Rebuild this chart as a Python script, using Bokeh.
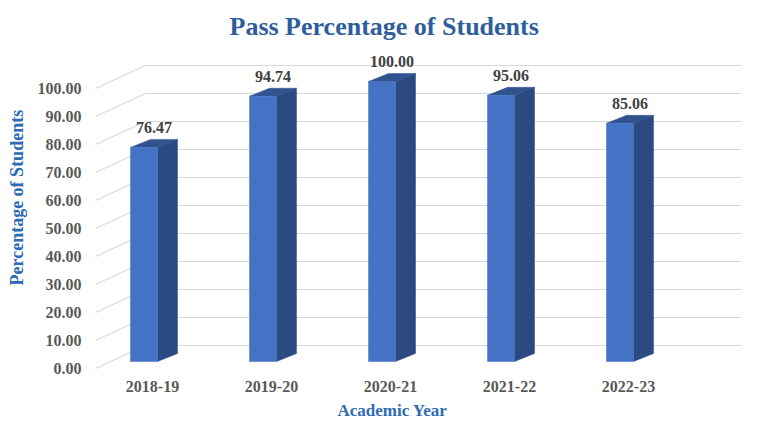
from bokeh.plotting import figure
from bokeh.models import (Range1d, LinearAxis, FixedTicker, NumeralTickFormatter,
                          ColumnDataSource, Title)
from bokeh.core.properties import value
from bokeh.embed import file_html
from bokeh.resources import INLINE

# ---- data ----
years = ["2018-19", "2019-20", "2020-21", "2021-22", "2022-23"]
pass_pct = [76.47, 94.74, 100.00, 95.06, 85.06]
y_ticks = [0, 10, 20, 30, 40, 50, 60, 70, 80, 90, 100]

# ---- style / geometry ----
W, H = 768, 433
FL, FR, FT, FB = 92, 748, 45, 372          # frame edges in px
PX_X = 119.0                                 # px per category
PX_Y = 2.8                                   # px per percent
X0_PX, Y0_PX = 143.5, 361.0                  # canvas px of (0, 0)
HALF = 13.5 / PX_X                           # half bar width
DX, DY = 20 / PX_X, 8 / PX_Y                 # bar depth
WALL_DX, WALL_DY = 1.5 / PX_X, 16 / PX_Y     # back wall offset
LBL_DY = 7 / PX_Y                            # label plane offset
SLANT_X0 = (95 - X0_PX) / PX_X
WALL_X1 = (741 - X0_PX) / PX_X
CAT_DX = 8.5 / PX_X

SERIF = "Liberation Serif"
FRONT, SIDE, TOP = "#4472C4", "#2B4A82", "#30528F"
GRID = "#D9D9D9"
AXIS_BLUE = "#2E6BB5"

x_start = (FL - X0_PX) / PX_X
x_end = (FR - X0_PX) / PX_X
y_end = (Y0_PX - FT) / PX_Y
y_start = (Y0_PX - FB) / PX_Y

p = figure(width=W, height=H, output_backend="svg", toolbar_location=None,
           x_range=Range1d(x_start, x_end), y_range=Range1d(y_start, y_end),
           x_axis_location=None, y_axis_location=None,
           min_border_left=FL, min_border_right=W - FR,
           min_border_top=FT, min_border_bottom=H - FB,
           outline_line_color=None, background_fill_color="white",
           border_fill_color="white")
p.grid.visible = False

p.extra_y_ranges = {"lbl": Range1d(y_start + LBL_DY, y_end + LBL_DY)}
p.extra_x_ranges = {"cat": Range1d(x_start - CAT_DX, x_end - CAT_DX)}

yax = LinearAxis(y_range_name="lbl", ticker=FixedTicker(ticks=y_ticks),
                 formatter=NumeralTickFormatter(format="0.00"))
yax.axis_line_color = None
yax.major_tick_line_color = None
yax.minor_tick_line_color = None
yax.major_label_standoff = 5
yax.major_label_text_font = SERIF
yax.major_label_text_font_style = "bold"
yax.major_label_text_font_size = "16px"
yax.major_label_text_color = "#595959"
p.add_layout(yax, "left")

yt = Title(text="Percentage of Students", align="left", offset=87,
           vertical_align="top", text_font=SERIF, text_font_style="bold",
           text_font_size="18px", text_color=AXIS_BLUE, standoff=11)
p.add_layout(yt, "left")

xax = LinearAxis(x_range_name="cat", ticker=FixedTicker(ticks=list(range(len(years)))),
                 major_label_overrides={i: y for i, y in enumerate(years)})
xax.axis_line_color = None
xax.major_tick_line_color = None
xax.minor_tick_line_color = None
xax.major_label_standoff = 2
xax.major_label_text_font = SERIF
xax.major_label_text_font_style = "bold"
xax.major_label_text_font_size = "16px"
xax.major_label_text_color = "#595959"
p.add_layout(xax, "below")

xt = Title(text="Academic Year", align="left", offset=245,
           text_font=SERIF, text_font_style="bold", text_font_size="17px",
           text_color=AXIS_BLUE, standoff=8)
p.add_layout(xt, "below")

p.title.text = "Pass Percentage of Students"
p.title.align = "left"
p.title.offset = 137
p.title.text_font = SERIF
p.title.text_font_style = "bold"
p.title.text_font_size = "26px"
p.title.text_color = "#2E5E9B"

# ---- 3D grid: back wall + slanted left lines ----
wall_y = [t + WALL_DY for t in y_ticks]
p.segment(x0=[WALL_DX] * len(y_ticks), y0=wall_y,
          x1=[WALL_X1] * len(y_ticks), y1=wall_y,
          line_color=GRID, line_width=1.2)
p.segment(x0=[SLANT_X0] * len(y_ticks), y0=[t - LBL_DY for t in y_ticks],
          x1=[WALL_DX] * len(y_ticks), y1=wall_y,
          line_color=GRID, line_width=1.2)

# ---- bars ----
xs_front, ys_front, xs_side, ys_side, xs_top, ys_top = [], [], [], [], [], []
for i, v in enumerate(pass_pct):
    l, r = i - HALF, i + HALF
    xs_front.append([l, r, r, l]); ys_front.append([0, 0, v, v])
    xs_side.append([r, r + DX, r + DX, r]); ys_side.append([0, DY, v + DY, v])
    xs_top.append([l, r, r + DX, l + DX]); ys_top.append([v, v, v + DY, v + DY])

p.patches(xs_side, ys_side, fill_color=SIDE, line_color=SIDE, line_width=0.5)
p.patches(xs_top, ys_top, fill_color=TOP, line_color=TOP, line_width=0.5)
p.patches(xs_front, ys_front, fill_color=FRONT, line_color=FRONT, line_width=0.5)

# ---- data labels ----
src = ColumnDataSource(dict(x=[i + DX / 2 for i in range(len(years))],
                            y=[v + DY for v in pass_pct],
                            t=[f"{v:.2f}" for v in pass_pct]))
p.text(x="x", y="y", text="t", source=src, text_align="center",
       text_baseline="middle", y_offset=-12, text_font=value(SERIF),
       text_font_style="bold", text_font_size="16px", text_color="#404040")

open("out.html", "w").write(file_html(p, INLINE))
